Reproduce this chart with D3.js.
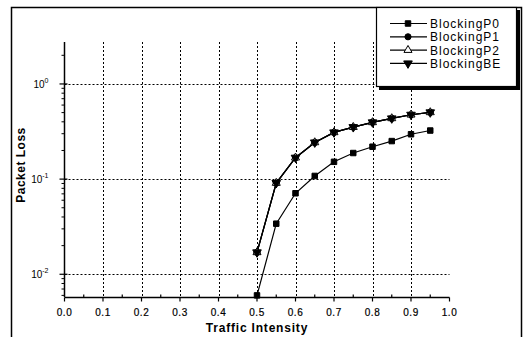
<!DOCTYPE html>
<html>
<head>
<meta charset="utf-8">
<script src="https://cdn.jsdelivr.net/npm/d3@7"></script>
<style>
body { margin:0; background:#fff; }
svg { display:block; font-family:"Liberation Sans", Arial, sans-serif; }
</style>
</head>
<body>
<div id="chart"></div>
<script>
var svgWidth=524
var svgHeight=337

// data
var traffic=[0.5,0.55,0.6,0.65,0.7,0.75,0.8,0.85,0.9,0.95]
var blockingP0=[0.006,0.034,0.071,0.108,0.152,0.188,0.219,0.251,0.296,0.324]
var blockingP1=[0.017,0.091,0.168,0.243,0.31,0.352,0.395,0.435,0.475,0.503]
var blockingP2=[0.017,0.091,0.168,0.243,0.31,0.352,0.395,0.435,0.475,0.503]
var blockingBE=[0.017,0.091,0.168,0.243,0.31,0.352,0.395,0.435,0.475,0.503]
var seriesNames=["BlockingP0","BlockingP1","BlockingP2","BlockingBE"]
var xTicks=[0,0.1,0.2,0.3,0.4,0.5,0.6,0.7,0.8,0.9,1.0]
var yDecades=[1,0.1,0.01]
var yExponents=["0","-1","-2"]

var svg=d3.select("#chart").append("svg")
    .attr("width", svgWidth)
    .attr("height", svgHeight)

// outer frame
svg.append("path")
    .attr("d", "M11.5,340 V7.5 H521.5 V340")
    .attr("fill","none").attr("stroke","#000").attr("stroke-width",1.5)

var x=d3.scaleLinear().domain([0,1]).range([64.5,449.5])
var y=d3.scaleLog().domain([0.00577,2.76]).range([297,42])

// grid
var grid=svg.append("g").attr("stroke","#000").attr("stroke-width",1).attr("stroke-dasharray","2,2")
grid.selectAll("line.v").data(xTicks.filter(d=>d>0 && d<1)).enter().append("line")
    .attr("x1",d=>Math.round(x(d))+0.5).attr("x2",d=>Math.round(x(d))+0.5)
    .attr("y1",y.range()[1]).attr("y2",y.range()[0])
grid.selectAll("line.h").data(yDecades).enter().append("line")
    .attr("x1",x(0)).attr("x2",x(1))
    .attr("y1",d=>Math.round(y(d))+0.5).attr("y2",d=>Math.round(y(d))+0.5)

// x axis
var xAxis=svg.append("g").attr("transform","translate(0,297.5)")
xAxis.append("line").attr("x1",x(0)).attr("x2",x(1)).attr("stroke","#000").attr("stroke-width",1.5)
xAxis.selectAll("line.maj").data(xTicks).enter().append("line")
    .attr("x1",d=>x(d)).attr("x2",d=>x(d)).attr("y1",0).attr("y2",4)
    .attr("stroke","#000").attr("stroke-width",1.2)
xAxis.selectAll("line.min").data(d3.range(0.05,1,0.1)).enter().append("line")
    .attr("x1",d=>x(d)).attr("x2",d=>x(d)).attr("y1",0).attr("y2",-3)
    .attr("stroke","#000").attr("stroke-width",1.2)
xAxis.selectAll("text").data(xTicks).enter().append("text")
    .attr("x",d=>x(d)).attr("y",18)
    .attr("text-anchor","middle").attr("font-size",10).attr("letter-spacing",0.6)
    .attr("stroke","#000").attr("stroke-width",0.2)
    .text(d=>d.toFixed(1))

// y axis
var yAxis=svg.append("g").attr("transform","translate(64.5,0)")
yAxis.append("line").attr("y1",y.range()[1]).attr("y2",y.range()[0]).attr("stroke","#000").attr("stroke-width",1.5)
var minor=[]
;[0.001,0.01,0.1,1].forEach(function(b){ for(var k=2;k<=9;k++){ var v=b*k; if(v>=y.domain()[0] && v<=y.domain()[1]) minor.push(v) } })
yAxis.selectAll("line.min").data(minor).enter().append("line")
    .attr("x1",-3).attr("x2",0).attr("y1",d=>y(d)).attr("y2",d=>y(d))
    .attr("stroke","#000").attr("stroke-width",1)
yAxis.selectAll("line.maj").data(yDecades).enter().append("line")
    .attr("x1",-5).attr("x2",3).attr("y1",d=>y(d)).attr("y2",d=>y(d))
    .attr("stroke","#000").attr("stroke-width",1.2)
var yLab=yAxis.selectAll("text").data(yDecades).enter().append("text")
    .attr("x",-16).attr("y",d=>y(d)+4)
    .attr("text-anchor","end").attr("font-size",10)
yLab.append("tspan").text("10")
yLab.append("tspan").attr("dy",-5).attr("font-size",7).text((d,i)=>yExponents[i])

// axis titles
svg.append("text").attr("x",257).attr("y",332)
    .attr("text-anchor","middle").attr("font-size",12).attr("font-weight","bold").attr("letter-spacing",0.8)
    .text("Traffic Intensity")
svg.append("text").attr("transform","translate(25,165) rotate(-90)")
    .attr("text-anchor","middle").attr("font-size",12).attr("font-weight","bold").attr("letter-spacing",0.5)
    .text("Packet Loss")

// series
var allSeries=[blockingP0,blockingP1,blockingP2,blockingBE]
var symbols=[d3.symbolSquare,d3.symbolCircle,d3.symbolTriangle,d3.symbolTriangle]
var symSizes=[30,30,28,32]
var symFill=["#000","#000","#fff","#000"]
var symRot=[0,0,0,180]

var line=d3.line().x(d=>x(d[0])).y(d=>y(d[1]))
allSeries.forEach(function(vals,i){
    var pts=traffic.map((t,j)=>[t,vals[j]])
    svg.append("path").datum(pts).attr("d",line)
        .attr("fill","none").attr("stroke","#000").attr("stroke-width",1.2)
})
allSeries.forEach(function(vals,i){
    var pts=traffic.map((t,j)=>[t,vals[j]])
    svg.selectAll("path.m"+i).data(pts).enter().append("path")
        .attr("d",d3.symbol().type(symbols[i]).size(symSizes[i]))
        .attr("transform",d=>`translate(${x(d[0])},${y(d[1])}) rotate(${symRot[i]})`)
        .attr("fill",symFill[i]).attr("stroke","#000").attr("stroke-width",1)
})

// legend
var legend=svg.append("g")
legend.append("rect").attr("x",379).attr("y",10).attr("width",141).attr("height",80).attr("fill","#000")
legend.append("rect").attr("x",376.5).attr("y",7.5).attr("width",140).attr("height",79).attr("fill","#fff").attr("stroke","#000").attr("stroke-width",1.2)
seriesNames.forEach(function(name,i){
    var ly=23.5+i*13.3
    legend.append("line").attr("x1",390).attr("x2",427).attr("y1",ly).attr("y2",ly).attr("stroke","#000").attr("stroke-width",1.2)
    legend.append("path").attr("d",d3.symbol().type(symbols[i]).size(symSizes[i]))
        .attr("transform",`translate(408,${ly}) rotate(${symRot[i]})`)
        .attr("fill",symFill[i]).attr("stroke","#000").attr("stroke-width",1)
    legend.append("text").attr("x",430).attr("y",ly+4.5).attr("font-size",12).attr("letter-spacing",1).text(name)
})
</script>
</body>
</html>
